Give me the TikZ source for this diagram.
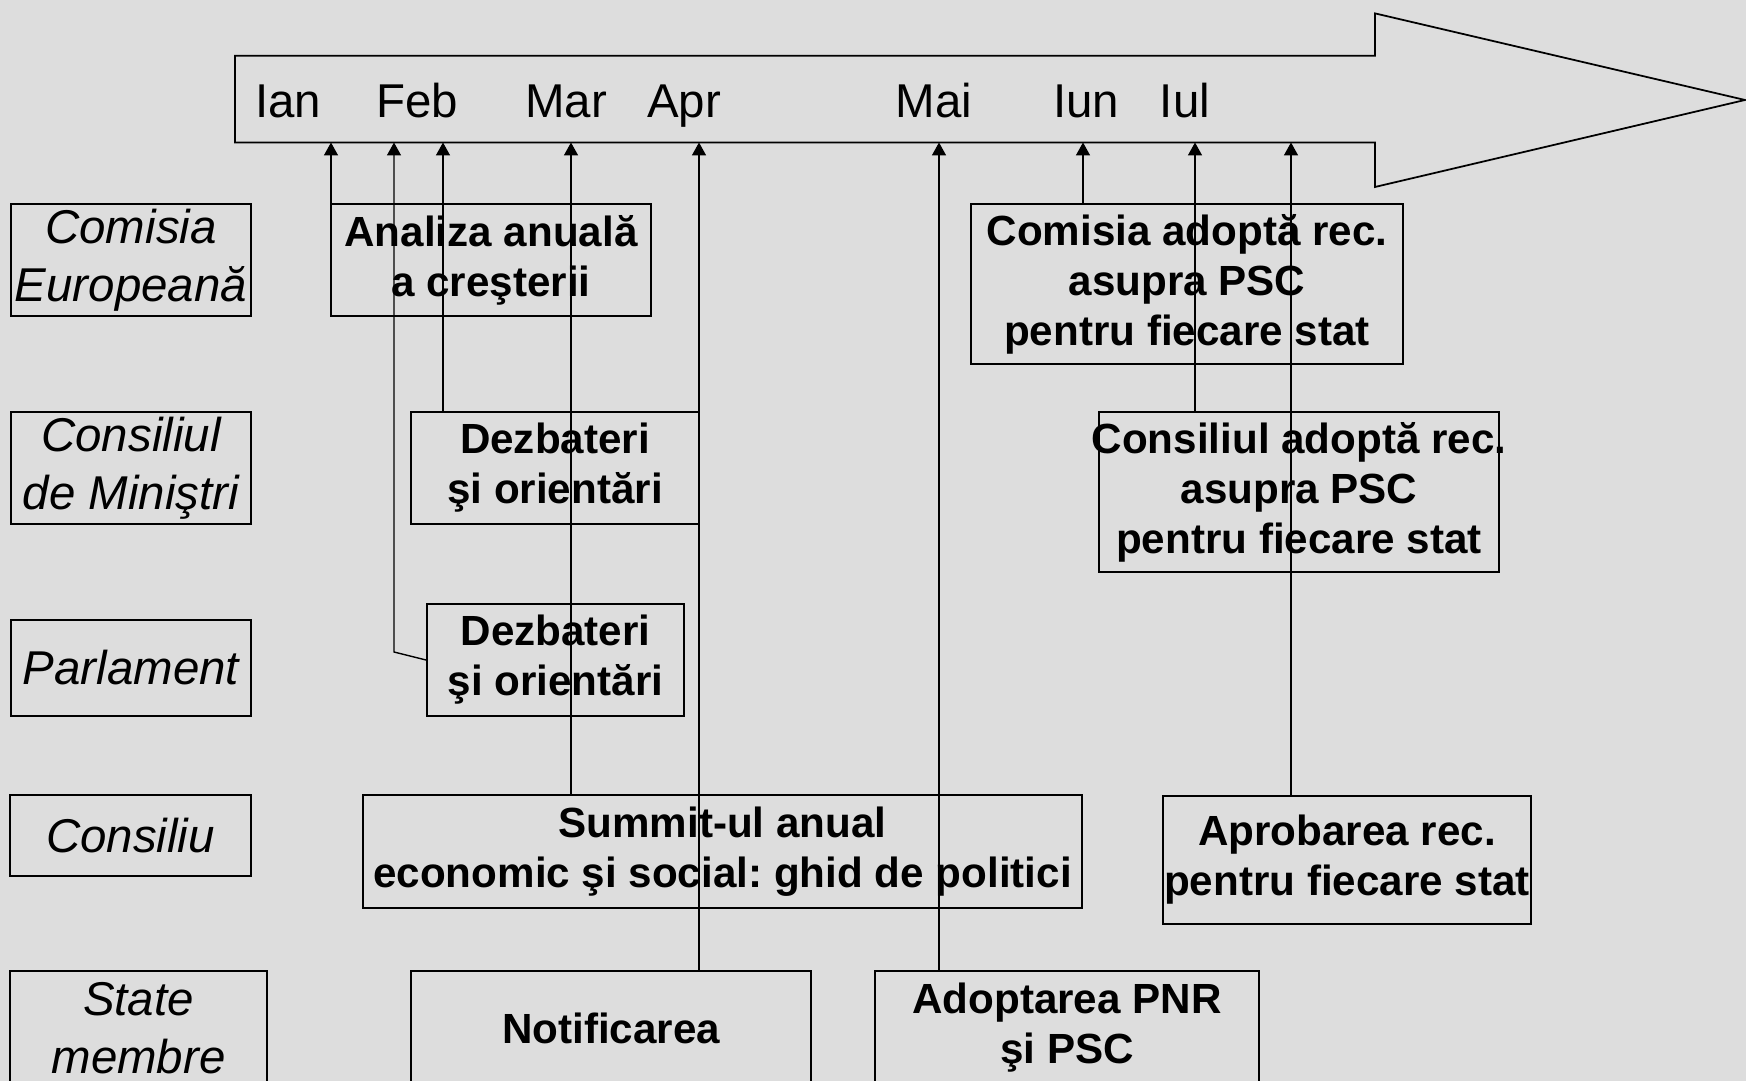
\documentclass[tikz,border=0pt]{standalone}
\usepackage{fontspec}
\setmainfont{Liberation Sans}
\usetikzlibrary{arrows.meta}
\definecolor{bgGray}{RGB}{221,221,221}
\frenchspacing

\begin{document}
\begin{tikzpicture}[
	box/.style={draw, line width=0.55pt, inner sep=0pt, align=center, font=\bfseries\fontsize{12}{14.2}\selectfont},
	who/.style={draw, line width=0.55pt, inner sep=0pt, align=center, font=\itshape\fontsize{13.5}{16.4}\selectfont},
	month/.style={anchor=base, inner sep=0pt, font=\fontsize{13.5}{16}\selectfont},
	conn/.style={line width=0.4pt, -{Triangle[length=3.7pt, width=4pt]}}]
	\fill[bgGray] (0,0) rectangle (17.46,-10.81);
	\clip (0,0) rectangle (17.46,-10.81);
	% time arrow
	\draw[line width=0.5pt] (2.35,-0.557) -- (13.75,-0.557) -- (13.75,-0.134) -- (17.45,-1.00) -- (13.75,-1.87) -- (13.75,-1.425) -- (2.35,-1.425) -- cycle;
	\node[month] (ian) at (2.88,-1.18) {Ian};
	\node[month] (feb) at (4.17,-1.18) {Feb};
	\node[month] (mar) at (5.66,-1.18) {Mar};
	\node[month] (apr) at (6.84,-1.18) {Apr};
	\node[month] (mai) at (9.34,-1.18) {Mai};
	\node[month] (iun) at (10.86,-1.18) {Iun};
	\node[month] (iul) at (11.85,-1.18) {Iul};
	\coordinate (tIan) at (3.31,-1.425);
	\coordinate (tFeb) at (3.94,-1.425);
	\coordinate (tFebb) at (4.43,-1.425);
	\coordinate (tMar) at (5.71,-1.425);
	\coordinate (tApr) at (6.99,-1.425);
	\coordinate (tMai) at (9.39,-1.425);
	\coordinate (tIun) at (10.83,-1.425);
	\coordinate (tIul) at (11.95,-1.425);
	\coordinate (tIulb) at (12.91,-1.425);
	\coordinate (fBend) at (3.94,-6.52);
	% actors
	\node[who, minimum width=2.40cm, minimum height=1.12cm] (ce) at (1.31,-2.60) {Comisia\\Europeană};
	\node[who, minimum width=2.40cm, minimum height=1.12cm] (cm) at (1.31,-4.68) {Consiliul\\de Miniştri};
	\node[who, minimum width=2.40cm, minimum height=0.96cm] (parl) at (1.31,-6.68) {Parlament};
	\node[who, minimum width=2.41cm, minimum height=0.81cm] (cons) at (1.305,-8.355) {Consiliu};
	\node[who, minimum width=2.57cm, minimum height=1.14cm] (sm) at (1.385,-10.28) {State\\membre};
	% steps
	\node[box, minimum width=3.20cm, minimum height=1.12cm] (ana) at (4.91,-2.60) {Analiza anuală\\a creşterii};
	\node[box, minimum width=2.88cm, minimum height=1.12cm] (dezc) at (5.55,-4.68) {Dezbateri\\şi orientări};
	\node[box, minimum width=2.57cm, minimum height=1.12cm] (dezp) at (5.555,-6.60) {Dezbateri\\şi orientări};
	\node[box, minimum width=7.19cm, minimum height=1.13cm] (summ) at (7.225,-8.515) {Summit-ul anual\\economic şi social: ghid de politici};
	\node[box, minimum width=4.00cm, minimum height=1.14cm] (notif) at (6.11,-10.28) {Notificarea};
	\node[box, minimum width=3.84cm, minimum height=1.14cm] (adopt) at (10.67,-10.28) {Adoptarea PNR\\şi PSC};
	\node[box, minimum width=4.32cm, minimum height=1.60cm] (ceadopt) at (11.87,-2.84) {Comisia adoptă rec.\\asupra PSC\\pentru fiecare stat};
	\node[box, minimum width=4.00cm, minimum height=1.60cm] (cadopt) at (12.99,-4.92) {\makebox[4cm]{Consiliul adoptă rec.}\\asupra PSC\\pentru fiecare stat};
	\node[box, minimum width=3.68cm, minimum height=1.28cm] (aprob) at (13.47,-8.60) {Aprobarea rec.\\pentru fiecare stat};
	% links to the time arrow
	\draw[conn] (tIan |- ana.north) -- (tIan);
	\draw[conn] (dezp.west) -- (fBend) -- (tFeb);
	\draw[conn] (tFebb |- dezc.north) -- (tFebb);
	\draw[conn] (tMar |- summ.north) -- (tMar);
	\draw[conn] (tApr |- notif.north) -- (tApr);
	\draw[conn] (tMai |- adopt.north) -- (tMai);
	\draw[conn] (tIun |- ceadopt.north) -- (tIun);
	\draw[conn] (tIul |- cadopt.north) -- (tIul);
	\draw[conn] (tIulb |- aprob.north) -- (tIulb);
\end{tikzpicture}
\end{document}
